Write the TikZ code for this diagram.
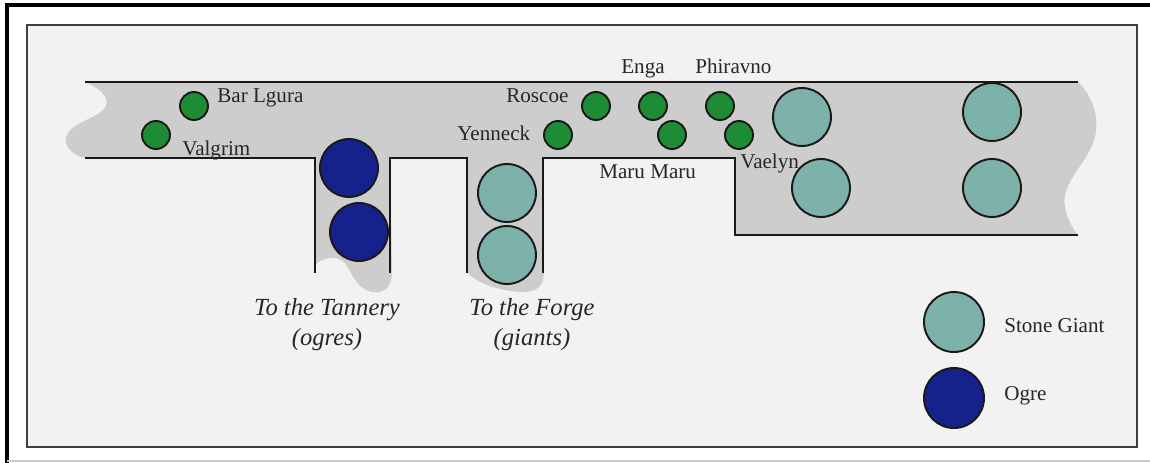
\documentclass[tikz,border=0pt]{standalone}
\usepackage{fontspec}
\setmainfont{Liberation Serif}
\definecolor{elfgreen}{RGB}{30,140,52}
\definecolor{giantteal}{RGB}{125,178,170}
\definecolor{ogreblue}{RGB}{22,34,140}
\definecolor{halls}{RGB}{205,205,205}
\definecolor{paper}{RGB}{242,242,242}
\definecolor{wall}{RGB}{25,25,25}
\tikzset{
  wallline/.style={draw=wall, line width=1.1pt},
  elf/.style={circle, draw=wall, line width=1.1pt, fill=elfgreen, minimum size=0.56cm, inner sep=0pt},
  giant/.style={circle, draw=wall, line width=1.1pt, fill=giantteal, minimum size=1.16cm, inner sep=0pt},
  ogre/.style={circle, draw=wall, line width=1.1pt, fill=ogreblue, minimum size=1.16cm, inner sep=0pt},
  tag/.style={font=\fontsize{12}{14}\selectfont, text=black!85, inner sep=0pt, anchor=base west},
  route/.style={font=\fontsize{14}{16}\selectfont\itshape, text=black!85, inner sep=0pt, anchor=base},
}
\begin{document}
\begin{tikzpicture}[x=0.02cm, y=-0.02cm]
\useasboundingbox (0,0) rectangle (1150,463);
% outer frame
\fill[white] (0,0) rectangle (1150,463);
\draw[black, line width=1.8pt] (7,463) -- (7,5) -- (1150,5);
\draw[gray!40, line width=0.6pt] (7,461) -- (1150,461);
% inner panel
\draw[fill=paper, draw=black!75, line width=1pt] (27,25) rectangle (1137,447);
% gray corridors
\fill[halls] (85,82) -- (1078,82)
  .. controls (1092,95) and (1102,120) .. (1093,143)
  .. controls (1085,165) and (1060,185) .. (1065,207)
  .. controls (1068,222) and (1074,230) .. (1078,235)
  -- (735,235) -- (735,158) -- (85,158)
  .. controls (72,155) and (62,145) .. (67,135)
  .. controls (72,122) and (100,118) .. (106,106)
  .. controls (110,95) and (95,86) .. (85,82) -- cycle;
\fill[halls] (315,150) -- (315,265)
  .. controls (322,258) and (336,254) .. (345,263)
  .. controls (352,272) and (355,288) .. (372,292)
  .. controls (386,294) and (392,285) .. (392,272)
  -- (390,150) -- cycle;
\fill[halls] (467,150) -- (467,272)
  .. controls (475,282) and (495,290) .. (520,292)
  .. controls (538,293) and (544,285) .. (544,272)
  -- (543,150) -- cycle;
% walls
\draw[wallline] (85,82) -- (1078,82);
\draw[wallline] (85,158) -- (315,158) -- (315,273);
\draw[wallline] (390,273) -- (390,158) -- (467,158) -- (467,273);
\draw[wallline] (543,273) -- (543,158) -- (735,158) -- (735,235) -- (1078,235);
% elves
\node[elf] (barlgura) at (194,106) {};
\node[elf] (valgrim) at (156,135) {};
\node[elf] (roscoe) at (596,106) {};
\node[elf] (yenneck) at (558,135) {};
\node[elf] (enga) at (653,106) {};
\node[elf] (marumaru) at (672,135) {};
\node[elf] (phiravno) at (720,106) {};
\node[elf] (vaelyn) at (739,135) {};
% ogres and giants
\node[ogre] (ogreA) at (349,168) {};
\node[ogre] (ogreB) at (359,232) {};
\node[giant] (forgeA) at (507,193) {};
\node[giant] (forgeB) at (507,255) {};
\node[giant] (giantA) at (802,117) {};
\node[giant] (giantB) at (821,188) {};
\node[giant] (giantC) at (992,112) {};
\node[giant] (giantD) at (992,188) {};
% names
\node[tag] (lblbar) at (217,102) {Bar Lgura};
\node[tag] (lblval) at (182,155) {Valgrim};
\node[tag] (lblros) at (506,102) {Roscoe};
\node[tag] (lblyen) at (457,140) {Yenneck};
\node[tag] (lbleng) at (621,73) {Enga};
\node[tag] (lblphi) at (695,73) {Phiravno};
\node[tag] (lblmaru) at (599,178) {Maru Maru};
\node[tag] (lblvae) at (740,168) {Vaelyn};
% routes
\node[route] (tannery) at (327,315) {To the Tannery};
\node[route] (ogres) at (327,345) {(ogres)};
\node[route] (forge) at (532,315) {To the Forge};
\node[route] (giants) at (532,345) {(giants)};
% legend
\node[giant, minimum size=1.2cm] (keygiant) at (954,322) {};
\node[ogre, minimum size=1.2cm] (keyogre) at (954,398) {};
\node[tag] (keygianttext) at (1004,332) {Stone Giant};
\node[tag] (keyogretext) at (1004,400) {Ogre};
\end{tikzpicture}
\end{document}
